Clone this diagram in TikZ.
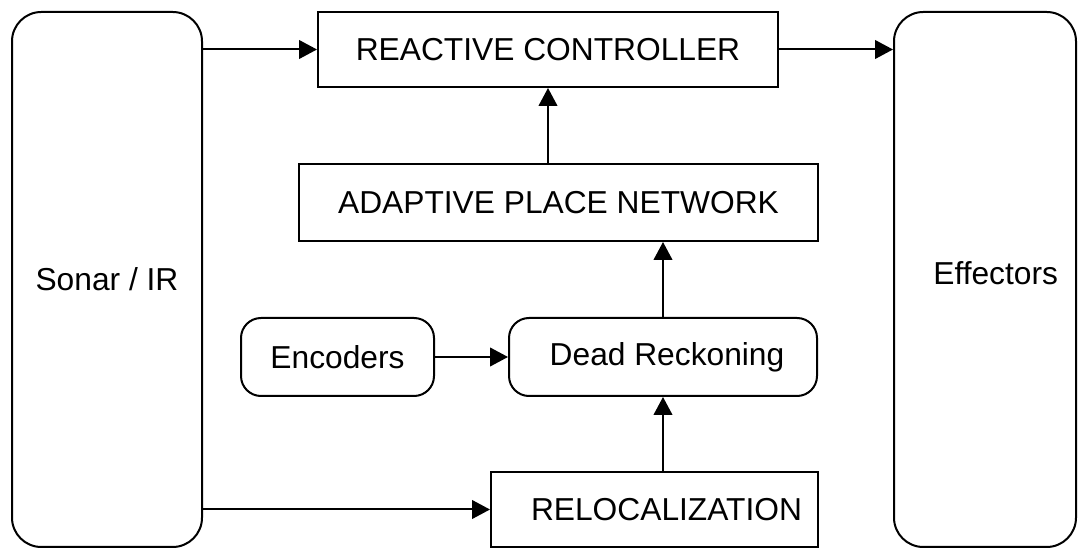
\documentclass[tikz,border=0pt]{standalone}
\usepackage{fontspec}
\setmainfont{Liberation Sans}
\usetikzlibrary{arrows.meta}
\begin{document}
\begin{tikzpicture}[x=0.75pt,y=-0.75pt,
  font=\fontsize{23.8}{28}\selectfont,
  blk/.style={draw, line width=1.5pt, rectangle, inner sep=0pt, anchor=center},
  rblk/.style={blk, rounded corners=15pt},
  side/.style={blk, rounded corners=22pt},
  conn/.style={line width=1.5pt, -{Triangle[length=13.5pt,width=14pt]}}]
\useasboundingbox (0,0) rectangle (1078,548);
% sensor and actuator columns
\node[side, minimum width=190*0.75pt, minimum height=535*0.75pt] (sonar) at (107,279.5) {Sonar / IR};
\node[side, minimum width=182*0.75pt, minimum height=535*0.75pt,
      label={[xshift=8pt,yshift=5pt]center:Effectors}] (eff) at (985,279.5) {};
% processing modules
\node[blk, minimum width=460*0.75pt, minimum height=75*0.75pt] (react) at (548,49.5) {REACTIVE CONTROLLER};
\node[blk, minimum width=519*0.75pt, minimum height=77*0.75pt] (apn) at (558.5,202.5) {ADAPTIVE PLACE NETWORK};
\node[rblk, minimum width=193*0.75pt, minimum height=78*0.75pt] (enc) at (337.5,357) {Encoders};
\node[rblk, minimum width=308*0.75pt, minimum height=78*0.75pt] (dr) at (663,357) {\hspace*{6pt}Dead Reckoning};
\node[blk, minimum width=327*0.75pt, minimum height=75*0.75pt] (reloc) at (654.5,509.5) {\hspace*{18pt}RELOCALIZATION};
% data flow
\draw[conn] (react.west -| sonar.east) -- (react.west);
\draw[conn] (react.east) -- (react.east -| eff.west);
\draw[conn] (react.south |- apn.north) -- (react.south);
\draw[conn] (dr.north) -- (dr.north |- apn.south);
\draw[conn] (enc.east) -- (dr.west);
\draw[conn] (dr.south |- reloc.north) -- (dr.south);
\draw[conn] (reloc.west -| sonar.east) -- (reloc.west);
\end{tikzpicture}
\end{document}
